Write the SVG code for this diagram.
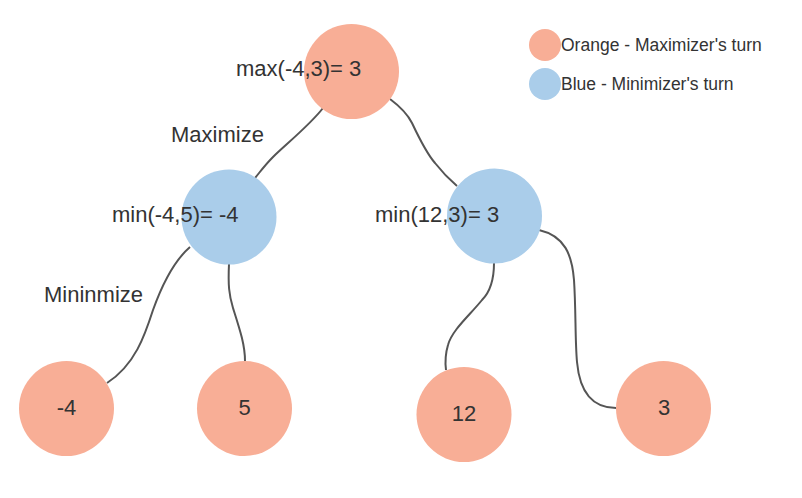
<svg xmlns="http://www.w3.org/2000/svg" width="802" height="498" viewBox="0 0 802 498">
<style>
.max{fill:#F8AE96}
.min{fill:#AACDEA}
.t{font-family:"Liberation Sans",Arial,sans-serif;fill:#333333;font-size:22px}
.c{text-anchor:middle}
.lg{font-size:17.5px}
.edge{fill:none;stroke:#555555;stroke-width:2}
</style>
<rect width="802" height="498" fill="#ffffff"/>
<g id="connectors">
<path class="edge" d="M323,108 C310,125 285,145 273,157 C265,165 260,172 255,178"/>
<path class="edge" d="M390,99 C402,108 408,115 412,123 C420,140 428,155 435,163 C442,172 450,180 457,186"/>
<path class="edge" d="M190,247 C175,260 162,285 153,310 C145,335 135,365 107,383"/>
<path class="edge" d="M229,264 C228,285 229,295 233,308 C240,330 245,345 245,361"/>
<path class="edge" d="M494,263 C494,280 490,292 482,300 C470,315 452,330 448,345 C445,355 445,362 446,370"/>
<path class="edge" d="M539,230 C565,236 572,255 574,280 C576,310 575,340 577,362 C580,395 595,408 616,408"/>
</g>
<g id="root">
<circle class="max" cx="351.5" cy="71.5" r="47.5"/>
<text class="t" x="236" y="76">max(-4,3)= 3</text>
</g>
<g id="minLeft">
<circle class="min" cx="229" cy="217" r="47.5"/>
<text class="t" x="112" y="222">min(-4,5)= -4</text>
</g>
<g id="minRight">
<circle class="min" cx="494.5" cy="216" r="47.5"/>
<text class="t" x="375" y="222">min(12,3)= 3</text>
</g>
<g id="leafA">
<circle class="max" cx="66.5" cy="408.5" r="47.5"/>
<text class="t c" x="66.5" y="415">-4</text>
</g>
<g id="leafB">
<circle class="max" cx="244.5" cy="408.5" r="47.5"/>
<text class="t c" x="244.5" y="415">5</text>
</g>
<g id="leafC">
<circle class="max" cx="464" cy="414.5" r="47.5"/>
<text class="t c" x="464" y="421">12</text>
</g>
<g id="leafD">
<circle class="max" cx="663.5" cy="408.5" r="47.5"/>
<text class="t c" x="664" y="415">3</text>
</g>
<g id="labelMaximize">
<text class="t" x="171" y="142">Maximize</text>
</g>
<g id="labelMinimize">
<text class="t" x="44" y="302">Mininmize</text>
</g>
<g id="legendOrange">
<circle class="max" cx="545" cy="45" r="16"/>
<text class="t lg" x="561" y="51">Orange - Maximizer's turn</text>
</g>
<g id="legendBlue">
<circle class="min" cx="545" cy="84" r="16"/>
<text class="t lg" x="561" y="90">Blue - Minimizer's turn</text>
</g>
</svg>
